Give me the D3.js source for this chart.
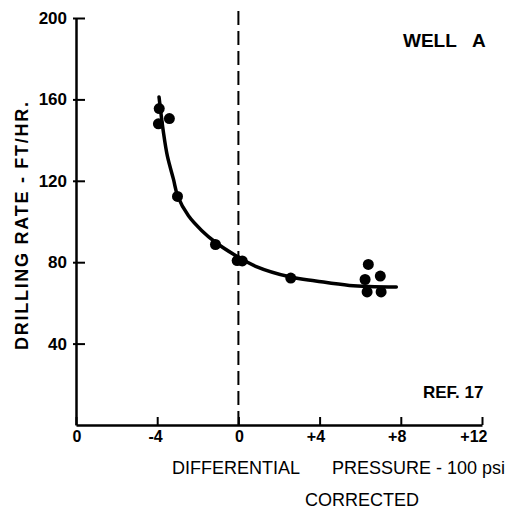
<!DOCTYPE html>
<html>
<head>
<meta charset="utf-8">
<script src="https://cdn.jsdelivr.net/npm/d3@7"></script>
<style>
  html, body { margin: 0; padding: 0; background: #fff; }
  svg { display: block; }
  text { font-family: "Liberation Sans", Arial, Helvetica, sans-serif; fill: #000; }
</style>
</head>
<body>
<svg id="chart" width="508" height="514"></svg>
<script>
// Measured drilling rates (ft/hr) against corrected differential pressure (100 psi)
const pressure     = [-3.90, -3.40, -3.94, -3.00, -1.13, -0.06, 0.19, 2.58, 6.40, 6.24, 6.99, 6.34, 7.03];
const drillingRate = [155.5, 150.6, 148.0, 112.3, 88.7, 80.8, 80.6, 72.2, 78.9, 71.5, 73.2, 65.4, 65.4];

// Hand-drawn trend curve through the data
const fitPressure = [-3.91, -3.69, -3.50, -3.20, -2.99, -2.46, -1.80, -1.13, -0.14, 0.85, 2.58, 3.81, 5.47, 7.78];
const fitRate     = [161.2, 143.6, 132.2, 120.8, 112.5, 102.8, 95.5, 89.8, 83.3, 78.0, 72.7, 70.8, 68.6, 67.8];

// Axis ticks and labels
const xTickValues = [-8, -4, 0, 4, 8, 12];
const xTickLabels = ["0", "-4", "0", "+4", "+8", "+12"];
const yTickValues = [40, 80, 120, 160, 200];

// Zero-pressure reference line extent (ft/hr)
const zeroLineRate = [0, 205];

const svg = d3.select("#chart");

const x = d3.scaleLinear().domain([-8, 12]).range([76, 482]);
const y = d3.scaleLinear().domain([0, 200]).range([425, 18]);

const g = svg.append("g");

// zero-pressure dashed line
g.append("line")
  .attr("x1", x(0)).attr("x2", x(0))
  .attr("y1", y(zeroLineRate[0])).attr("y2", y(zeroLineRate[1]))
  .attr("stroke", "#000").attr("stroke-width", 2)
  .attr("stroke-dasharray", "14,6");

// x axis: ticks pointing up into the plot
const xAxis = d3.axisBottom(x)
  .tickValues(xTickValues)
  .tickFormat((d, i) => xTickLabels[i])
  .tickSizeInner(-8).tickSizeOuter(0).tickPadding(6);

const gx = g.append("g").attr("transform", `translate(0,${y(0)})`).call(xAxis);
gx.select(".domain").attr("stroke", "#000").attr("stroke-width", 2.5);
gx.selectAll(".tick line").attr("stroke", "#000").attr("stroke-width", 2);
gx.selectAll(".tick text")
  .attr("text-anchor", "end").attr("dx", 5)
  .style("font-size", "16px").style("font-weight", "bold");

// y axis: ticks crossing the axis line
const yAxis = d3.axisLeft(y)
  .tickValues(yTickValues)
  .tickSizeInner(-9).tickSizeOuter(0).tickPadding(9);

const gy = g.append("g").attr("transform", `translate(${x(-8)},0)`).call(yAxis);
gy.select(".domain").attr("stroke", "#000").attr("stroke-width", 2.5);
gy.selectAll(".tick line").attr("x1", -3).attr("stroke", "#000").attr("stroke-width", 2);
gy.selectAll(".tick text")
  .style("font-size", "17px").style("font-weight", "bold");

// trend curve
const curvePts = fitPressure.map((p, i) => [p, fitRate[i]]);
g.append("path")
  .datum(curvePts)
  .attr("d", d3.line().x(d => x(d[0])).y(d => y(d[1])).curve(d3.curveCatmullRom.alpha(0.5)))
  .attr("fill", "none").attr("stroke", "#000")
  .attr("stroke-width", 3.5).attr("stroke-linecap", "round");

// data points
g.selectAll("circle.pt")
  .data(pressure.map((p, i) => [p, drillingRate[i]]))
  .join("circle").attr("class", "pt")
  .attr("cx", d => x(d[0])).attr("cy", d => y(d[1]))
  .attr("r", 5.5).attr("fill", "#000");

// y axis title
g.append("text")
  .attr("transform", "translate(22,226) rotate(-90)")
  .attr("text-anchor", "middle").attr("dy", "0.35em")
  .attr("textLength", 248).attr("lengthAdjust", "spacing")
  .style("font-size", "18px").style("font-weight", "bold")
  .text("DRILLING RATE - FT/HR.");

// x axis title
g.append("text").attr("x", 172).attr("y", 474)
  .style("font-size", "18px").text("DIFFERENTIAL");
g.append("text").attr("x", 332).attr("y", 474)
  .style("font-size", "18px").text("PRESSURE - 100 psi");
g.append("text").attr("x", 305).attr("y", 506)
  .style("font-size", "18px").text("CORRECTED");

// panel labels
g.append("text").attr("x", 403).attr("y", 47)
  .style("font-size", "19px").style("font-weight", "bold").text("WELL");
g.append("text").attr("x", 472).attr("y", 47)
  .style("font-size", "19px").style("font-weight", "bold").text("A");
g.append("text").attr("x", 423).attr("y", 398)
  .style("font-size", "17px").style("font-weight", "bold").text("REF. 17");
</script>
</body>
</html>
